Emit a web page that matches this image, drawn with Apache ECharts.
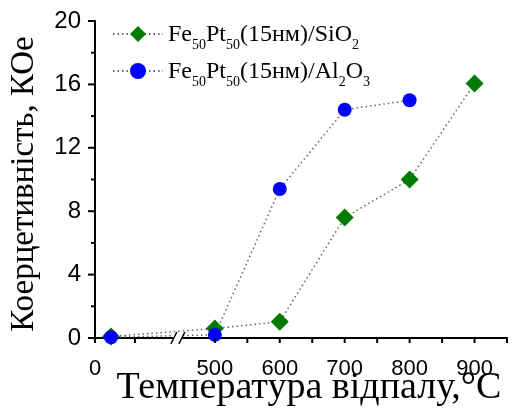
<!DOCTYPE html>
<html><head><meta charset="utf-8">
<script src="https://cdn.jsdelivr.net/npm/echarts@6/dist/echarts.min.js"></script>
<style>html,body{margin:0;padding:0;background:#fff}#c{width:512px;height:414px}</style>
</head><body><div id="c"></div>
<script>
// Data (annealing temperature, °C ; coercivity, kOe)
const tempSiO2 = [20, 500, 600, 700, 800, 900];
const hcSiO2   = [0.1, 0.6, 1.03, 7.6, 10.0, 16.05];
const tempAl2O3 = [20, 500, 600, 700, 800];
const hcAl2O3   = [0.05, 0.2, 9.4, 14.4, 15.0];
const xTickLabels = [0, 500, 600, 700, 800, 900];
const xMinorTicks = [50, 550, 650, 750, 850, 950];
const yTicks = [0, 4, 8, 12, 16, 20];
const yMinorTicks = [2, 6, 10, 14, 18];
const seriesNames = ['SiO2', 'Al2O3'];
const xTitle = 'Температура відпалу,°C';
const yTitle = 'Коерцетивність, КОе';

// broken x axis: low segment (0..~105) is stretched onto the axis start
const AX_MIN = 315.4, LOW_K = 1.23, BREAK_AT = 443;
const toAxis = x => x < 300 ? AX_MIN + x * LOW_K : x;
const fromAxis = v => v < 450 ? Math.round((v - AX_MIN) / LOW_K) : Math.round(v);

const chart = echarts.init(document.getElementById('c'));
const serif = '"Liberation Serif","Times New Roman",serif';
const sans = '"Liberation Sans",Arial,sans-serif';
const legendFmt = name => name === 'SiO2'
  ? '{a|Fe}{s|50}{a|Pt}{s|50}{a|(15нм)/SiO}{s|2}'
  : '{a|Fe}{s|50}{a|Pt}{s|50}{a|(15нм)/Al}{s|2}{a|O}{s|3}';

chart.setOption({
  animation: false,
  grid: {left: 95, right: 5, top: 21, bottom: 76, containLabel: false, outerBoundsMode: 'none'},
  legend: {
    orient: 'vertical', left: 107, top: 18, itemWidth: 50, itemHeight: 20, itemGap: 8,
    data: seriesNames, formatter: legendFmt,
    textStyle: {
      rich: {
        a: {fontFamily: serif, fontSize: 24, color: '#000', lineHeight: 26, verticalAlign: 'bottom'},
        s: {fontFamily: serif, fontSize: 14, color: '#000', lineHeight: 20, verticalAlign: 'bottom', padding: [0,0,-5,0]}
      }
    }
  },
  xAxis: {
    type: 'value', min: AX_MIN, max: 950,
    axisLine: {show: true, onZero: false, lineStyle: {color: '#000', width: 2}},
    axisTick: {show: false},
    axisLabel: {show: true, customValues: xTickLabels.map(toAxis), formatter: v => String(fromAxis(v)),
      fontFamily: sans, fontSize: 22, color: '#000', margin: 15, padding: [5, 0, 0, 0]},
    splitLine: {show: false}
  },
  yAxis: {
    type: 'value', min: 0, max: 20, interval: 4,
    name: yTitle, nameLocation: 'middle', nameGap: 54, nameRotate: 90,
    nameTextStyle: {fontFamily: serif, fontSize: 33, color: '#000', padding: [0, 9, 0, 0]},
    axisLine: {show: true, onZero: false, lineStyle: {color: '#000', width: 2}},
    axisTick: {show: false},
    minorTick: {show: false},
    axisLabel: {show: true, fontFamily: sans, fontSize: 24, color: '#000', margin: 14,
      customValues: yTicks},
    splitLine: {show: false}
  },
  series: [
    {name: 'SiO2', type: 'line', symbol: 'diamond', symbolSize: 18, z: 2,
     itemStyle: {color: '#007a00'},
     lineStyle: {color: '#666', width: 1.5, type: [1.5, 3]},
     data: tempSiO2.map((t, i) => [toAxis(t), hcSiO2[i]])},
    {name: 'Al2O3', type: 'line', symbol: 'circle', symbolSize: 14, z: 3,
     itemStyle: {color: '#0000ff'},
     lineStyle: {color: '#666', width: 1.5, type: [1.5, 3]},
     data: tempAl2O3.map((t, i) => [toAxis(t), hcAl2O3[i]])}
  ]
});

// ticks (outside), break marks "//" and x-axis title, placed through the axis scales
const px = v => chart.convertToPixel({gridIndex: 0}, v);
const origin = px([AX_MIN, 0]);
const tick = (x1, y1, x2, y2) => ({type: 'line', shape: {x1, y1, x2, y2},
  style: {stroke: '#000', lineWidth: 2}, z: 101});
const g = [];
xTickLabels.concat(xMinorTicks).forEach(t => {
  const x = px([toAxis(t), 0])[0];
  g.push(tick(x, origin[1], x, origin[1] + 5));
});
yTicks.forEach(v => { const y = px([AX_MIN, v])[1]; g.push(tick(origin[0] - 7, y, origin[0], y)); });
yMinorTicks.forEach(v => { const y = px([AX_MIN, v])[1]; g.push(tick(origin[0] - 4, y, origin[0], y)); });
const b = px([BREAK_AT, 0]);
g.push({type: 'rect', shape: {x: b[0] - 4, y: b[1] - 3, width: 8, height: 6}, style: {fill: '#fff'}, z: 100});
g.push({type: 'line', shape: {x1: b[0] - 7, y1: b[1] + 6, x2: b[0] - 1, y2: b[1] - 6}, style: {stroke: '#000', lineWidth: 1.5}, z: 101});
g.push({type: 'line', shape: {x1: b[0] + 1, y1: b[1] + 6, x2: b[0] + 7, y2: b[1] - 6}, style: {stroke: '#000', lineWidth: 1.5}, z: 101});
g.push({type: 'text', x: 309, y: 388, z: 101, style: {text: xTitle, fontFamily: serif, fontSize: 38,
  fill: '#000', align: 'center', verticalAlign: 'middle'}});
chart.setOption({graphic: g});
</script></body></html>
